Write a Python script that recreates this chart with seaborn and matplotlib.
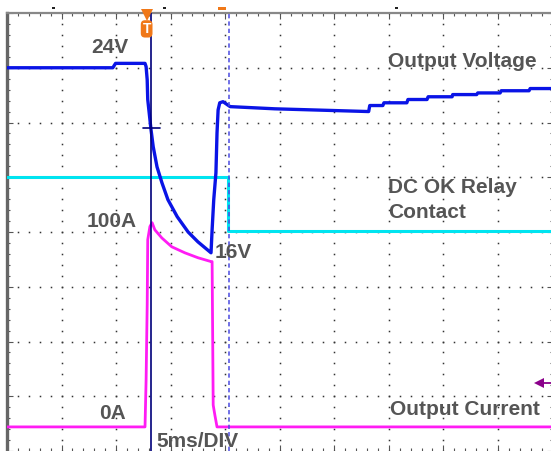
import numpy as np
import pandas as pd
import seaborn as sns
import matplotlib.pyplot as plt
from matplotlib.ticker import MultipleLocator

# all traces in screen divisions (10 x 8 grid, 5ms/DIV)
volt_x = [0.0, 1.94, 1.99, 2.53, 2.55, 2.57, 2.58, 2.64, 2.68, 2.75, 2.84, 2.95, 3.12, 3.32, 3.50,
          3.68, 3.74, 3.76, 3.79, 3.83, 3.85, 3.87, 3.90, 3.96, 4.09, 4.91, 6.63, 6.65, 6.89, 6.91,
          7.33, 7.35, 7.70, 7.72, 8.16, 8.17, 8.61, 8.63, 9.04, 9.06, 9.57, 9.59, 10.0]
volt_y = [7.00, 7.00, 7.08, 7.08, 7.02, 6.78, 6.42, 5.87, 5.56, 5.19, 4.90, 4.59, 4.28, 4.00, 3.82,
          3.67, 3.62, 4.04, 4.59, 5.08, 5.81, 6.23, 6.36, 6.38, 6.29, 6.25, 6.20, 6.31, 6.31, 6.36,
          6.36, 6.42, 6.42, 6.47, 6.47, 6.51, 6.51, 6.54, 6.54, 6.58, 6.58, 6.62, 6.62]

relay_x = [0.0, 4.06, 4.06, 10.0]
relay_y = [5.00, 5.00, 4.02, 4.02]

curr_x = [0.0, 2.53, 2.55, 2.57, 2.58, 2.62, 2.66, 2.71, 2.84, 3.02, 3.26, 3.50, 3.74,
          3.76, 3.78, 3.81, 3.85, 10.0]
curr_y = [0.44, 0.44, 1.30, 2.67, 3.86, 4.10, 4.17, 4.04, 3.89, 3.73, 3.62, 3.53, 3.46,
          3.46, 0.84, 0.66, 0.44, 0.44]

trig_x = 2.64
trig_level = 5.90
cursor_x = 4.07

labels = ["24V", "Output Voltage", "DC OK Relay", "Contact", "100A", "16V", "0A", "5ms/DIV", "Output Current"]
label_x = [1.88, 6.98, 6.98, 6.98, 1.92, 4.14, 1.94, 2.74, 7.02]
label_y = [7.37, 7.11, 4.81, 4.35, 4.19, 3.62, 0.68, 0.18, 0.75]
label_ha = ["center", "left", "left", "left", "center", "center", "center", "left", "left"]

sns.set_theme(style="white")
plt.rcParams['font.family'] = ['Liberation Sans', 'DejaVu Sans']

fig = plt.figure(figsize=(5.51, 4.51), dpi=100)
ax = fig.add_axes([7 / 551, 0, 545.5 / 551, 438 / 451])
ax.set_xlim(0, 10)
ax.set_ylim(0, 8)

# dotted graticule
for gx in range(1, 10):
    yy = np.arange(0, 8.01, 0.2)
    ax.plot([gx] * len(yy), yy, ls="none", marker="s", ms=1.1, mew=0, color="#333333", zorder=1)
for gy in range(1, 8):
    xx = np.arange(0, 10.01, 0.2)
    ax.plot(xx, [gy] * len(xx), ls="none", marker="s", ms=1.1, mew=0, color="#333333", zorder=1)

df_v = pd.DataFrame({"x": volt_x, "y": volt_y})
df_r = pd.DataFrame({"x": relay_x, "y": relay_y})
df_c = pd.DataFrame({"x": curr_x, "y": curr_y})
sns.lineplot(data=df_r, x="x", y="y", sort=False, estimator=None, color="#00e4f0", lw=2.2, ax=ax, zorder=3)
sns.lineplot(data=df_c, x="x", y="y", sort=False, estimator=None, color="#ff1cf4", lw=2.0, ax=ax, zorder=3)
sns.lineplot(data=df_v, x="x", y="y", sort=False, estimator=None, color="#0a14e6", lw=2.4, ax=ax, zorder=4)

# trigger line + cursor
ax.axvline(trig_x, color="#00007a", lw=1.2, zorder=5)
ax.plot([trig_x - 0.15, trig_x + 0.16], [trig_level, trig_level], color="#00007a", lw=1.2, zorder=5)
ax.axvline(cursor_x, color="#4a4ae0", lw=1.1, ls=(0, (2.8, 2.0)), zorder=5)

# trigger marker
ax.plot([2.56], [7.96], marker="v", ms=8, mew=0, color="#f07818", clip_on=False, zorder=6)
ax.text(2.56, 7.71, "T", ha="center", va="center", color="white", fontsize=10, fontweight="bold",
        bbox=dict(boxstyle="round,pad=0.12,rounding_size=0.3", fc="#f07818", ec="none"), zorder=6)

# ground marker for current channel
ax.plot([9.76], [1.24], marker="<", ms=7, mew=0, color="#8b008b", zorder=6)
ax.plot([9.8, 10.0], [1.24, 1.24], color="#8b008b", lw=1.3, zorder=6)

for t, x, y, ha in zip(labels, label_x, label_y, label_ha):
    ax.text(x, y, t, ha=ha, va="center", fontsize=15, fontweight="bold", color="#555555", zorder=7)

ax.xaxis.set_major_locator(MultipleLocator(1))
ax.xaxis.set_minor_locator(MultipleLocator(0.2))
ax.yaxis.set_major_locator(MultipleLocator(1))
ax.yaxis.set_minor_locator(MultipleLocator(0.2))
ax.tick_params(which="both", direction="in", top=True, bottom=True, left=True, right=True,
               labelbottom=False, labelleft=False, color="#555555", width=0.8)
ax.tick_params(which="major", length=4)
ax.tick_params(which="minor", length=2.5)
ax.set_xlabel("")
ax.set_ylabel("")

ax.spines["left"].set_color("#666666")
ax.spines["left"].set_linewidth(2.4)
ax.spines["top"].set_color("#888888")
ax.spines["top"].set_linewidth(1.6)
ax.spines["bottom"].set_visible(False)
ax.spines["right"].set_visible(False)

# small marks above the screen
fig.add_artist(plt.Rectangle((218 / 551, 1 - 10 / 451), 8 / 551, 3 / 451, color="#f07818", lw=0))
for mx in [52, 163, 395]:
    fig.add_artist(plt.Rectangle((mx / 551, 1 - 9 / 451), 3 / 551, 2 / 451, color="#222222", lw=0))

fig.savefig("out.png", dpi=100)
